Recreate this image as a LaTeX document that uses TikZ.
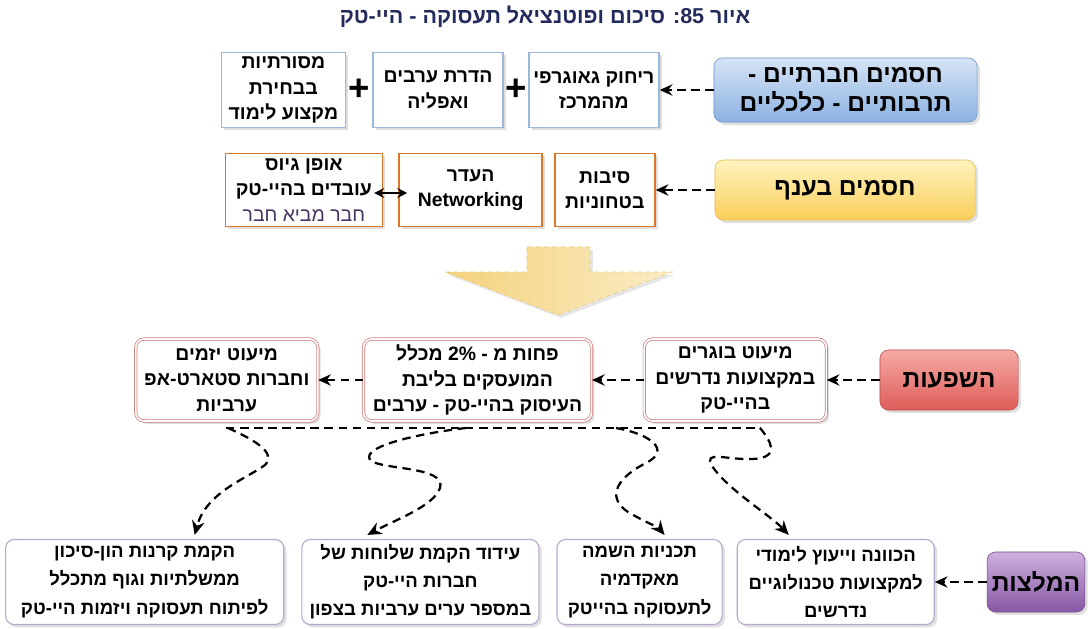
\documentclass[tikz,border=0pt]{standalone}
\usepackage{fontspec}
\setmainfont{Liberation Sans}
\newfontfamily\heb[Script=Hebrew]{Liberation Sans}
\usepackage{tikz}
\usetikzlibrary{shapes.geometric, arrows.meta, positioning, calc, shadows}
\TeXXeTstate=1
\newcommand{\rtxt}[1]{\beginR #1\endR}
\newcommand{\bodyfont}{\heb\bfseries\fontsize{13.8}{18}\selectfont}
\newcommand{\hdrfont}{\heb\bfseries\fontsize{17.5}{21}\selectfont}

\definecolor{titlenavy}{RGB}{35,42,92}
\definecolor{blueA}{RGB}{214,228,245}
\definecolor{blueB}{RGB}{140,178,226}
\definecolor{blueE}{RGB}{105,145,200}
\definecolor{blueline}{RGB}{155,183,220}
\definecolor{yelA}{RGB}{255,243,190}
\definecolor{yelB}{RGB}{249,206,90}
\definecolor{yelE}{RGB}{232,186,80}
\definecolor{orangeline}{RGB}{222,118,40}
\definecolor{redA}{RGB}{246,170,166}
\definecolor{redB}{RGB}{222,92,88}
\definecolor{redE}{RGB}{190,75,72}
\definecolor{pinkline}{RGB}{205,120,118}
\definecolor{purA}{RGB}{205,176,222}
\definecolor{purB}{RGB}{135,88,165}
\definecolor{purE}{RGB}{115,75,140}
\definecolor{lilacline}{RGB}{185,168,206}
\definecolor{goldA}{RGB}{244,210,125}
\definecolor{goldB}{RGB}{251,236,198}
\definecolor{goldE}{RGB}{236,200,112}
\definecolor{friendtxt}{RGB}{72,52,100}

\tikzset{
    soft_shadow/.style={drop shadow={opacity=0.25, shadow xshift=2pt, shadow yshift=-2pt}},
    hdr_blue/.style={rectangle, draw=blueE, rounded corners=6pt, top color=blueA, bottom color=blueB, font=\hdrfont, align=center, soft_shadow},
    hdr_yellow/.style={rectangle, draw=yelE, rounded corners=6pt, top color=yelA, bottom color=yelB, font=\hdrfont, align=center, soft_shadow},
    hdr_red/.style={rectangle, draw=redE, rounded corners=6pt, top color=redA, bottom color=redB, font=\hdrfont, align=center, soft_shadow},
    hdr_purple/.style={rectangle, draw=purE, rounded corners=6pt, top color=purA, bottom color=purB, font=\hdrfont, align=center, soft_shadow},
    box_blue/.style={rectangle, draw=blueline, line width=1.2pt, fill=white, font=\bodyfont, align=center, inner sep=1pt, soft_shadow},
    box_orange/.style={rectangle, draw=orangeline, line width=1.2pt, fill=white, font=\bodyfont, align=center, inner sep=1pt, soft_shadow},
    box_pink/.style={rectangle, draw=pinkline, line width=0.5pt, double=white, double distance=1.2pt, rounded corners=6pt, fill=white, font=\bodyfont, align=center, inner sep=2pt, soft_shadow},
    box_lilac/.style={rectangle, draw=lilacline, line width=0.8pt, rounded corners=6pt, fill=white, font=\heb\bfseries\fontsize{13.2}{20}\selectfont, align=center, inner sep=2pt, soft_shadow},
    dash_arrow/.style={-{Stealth[length=9pt, width=8pt]}, line width=1.6pt, dash pattern=on 6pt off 4pt},
    curve_arrow/.style={-{Stealth[length=10pt, width=9pt]}, line width=1.6pt, dash pattern=on 6pt off 4pt},
    both_arrow/.style={{Stealth[length=7pt, width=7pt]}-{Stealth[length=7pt, width=7pt]}, line width=1.2pt},
    plus_sign/.style={font=\bfseries\fontsize{26}{26}\selectfont, inner sep=0pt}
}

\begin{document}
\begin{tikzpicture}[x=0.025cm, y=-0.025cm]
    \fill[white] (0,0) rectangle (1090,629);
    \useasboundingbox (0,0) rectangle (1090,629);

    \node (title) [font=\heb\bfseries\fontsize{15.3}{17}\selectfont, text=titlenavy] at (545,17) {\rtxt{איור \beginL 85\endL: סיכום ופוטנציאל תעסוקה - היי-טק}};

    % barriers: society
    \node (soc) [hdr_blue, minimum width=6.575cm, minimum height=1.6cm] at (845.5,90) {\rtxt{חסמים חברתיים -}\\\rtxt{תרבותיים - כלכליים}};
    \node (geo) [box_blue, left=1.35cm of soc, minimum width=3.25cm, minimum height=1.875cm] {\rtxt{ריחוק גאוגרפי}\\\rtxt{מהמרכז}};
    \node (excl) [box_blue, left=0.6cm of geo, minimum width=3.25cm, minimum height=1.875cm] {\rtxt{הדרת ערבים}\\\rtxt{ואפליה}};
    \node (trad) [box_blue, left=0.65cm of excl, minimum width=3.1cm, minimum height=1.875cm] {\rtxt{מסורתיות}\\\rtxt{בבחירת}\\\rtxt{מקצוע לימוד}};
    \node (plusA) [plus_sign] at ($(geo.west)!0.5!(excl.east)$) {+};
    \node (plusB) [plus_sign] at ($(excl.west)!0.5!(trad.east)$) {+};

    % barriers: industry
    \node (ind) [hdr_yellow, minimum width=6.5cm, minimum height=1.5cm] at (845,190) {\rtxt{חסמים בענף}};
    \node (sec) [box_orange, left=1.475cm of ind, minimum width=2.5cm, minimum height=1.825cm] {\rtxt{סיבות}\\\rtxt{בטחוניות}};
    \node (net) [box_orange, left=0.275cm of sec, minimum width=3.575cm, minimum height=1.825cm] {\rtxt{העדר}\\Networking};
    \node (hire) [box_orange, left=0.375cm of net, minimum width=3.925cm, minimum height=1.825cm] {\rtxt{אופן גיוס}\\\rtxt{עובדים בהיי-טק}\\{\mdseries\color{friendtxt}\rtxt{חבר מביא חבר}}};

    \draw [dash_arrow] (soc) -- (geo);
    \draw [dash_arrow] (ind) -- (sec);
    \draw [both_arrow] ($(hire.east)+(-9,3)$) -- ($(net.west)+(9,3)$);

    % big arrow
    \shade[left color=goldA, right color=goldB, draw=goldE, dashed, drop shadow={opacity=0.2, shadow xshift=2pt, shadow yshift=-2pt}]
        (527,247) -- (590,247) -- (590,272) -- (672,272) -- (558,315) -- (445,272) -- (527,272) -- cycle;

    % impacts
    \node (imp) [hdr_red, minimum width=3.45cm, minimum height=1.5cm] at (949,380) {\rtxt{השפעות}};
    \node (grad) [box_pink, left=1.325cm of imp, minimum width=4.55cm, minimum height=2.05cm] {\rtxt{מיעוט בוגרים}\\\rtxt{במקצועות נדרשים}\\\rtxt{בהיי-טק}};
    \node (pct) [box_pink, left=1.3cm of grad, minimum width=5.7cm, minimum height=2.05cm] {\rtxt{פחות מ - \beginL 2\%\endL{} מכלל}\\\rtxt{המועסקים בליבת}\\\rtxt{העיסוק בהיי-טק - ערבים}};
    \node (ent) [box_pink, left=1.125cm of pct, minimum width=4.55cm, minimum height=2.05cm] {\rtxt{מיעוט יזמים}\\\rtxt{וחברות סטארט-אפ}\\\rtxt{ערביות}};

    \draw [dash_arrow] (imp) -- (grad);
    \draw [dash_arrow] (grad) -- (pct);
    \draw [dash_arrow] (pct) -- (ent);

    % recommendations
    \node (recs) [hdr_purple, minimum width=2.4cm, minimum height=1.5cm] at (1036,582) {\rtxt{המלצות}};
    \node (guide) [box_lilac, left=1.3cm of recs, minimum width=4.925cm, minimum height=2.125cm] {\rtxt{הכוונה וייעוץ לימודי}\\\rtxt{למקצועות טכנולוגיים}\\\rtxt{נדרשים}};
    \node (place) [box_lilac, left=0.35cm of guide, minimum width=4.125cm, minimum height=2.125cm] {\rtxt{תכניות השמה}\\\rtxt{מאקדמיה}\\\rtxt{לתעסוקה בהייטק}};
    \node (branch) [box_lilac, left=0.425cm of place, minimum width=5.925cm, minimum height=2.125cm] {\rtxt{עידוד הקמת שלוחות של}\\\rtxt{חברות היי-טק}\\\rtxt{במספר ערים ערביות בצפון}};
    \node (fund) [box_lilac, left=0.425cm of branch, minimum width=6.95cm, minimum height=2.125cm] {\rtxt{הקמת קרנות הון-סיכון}\\\rtxt{ממשלתיות וגוף מתכלל}\\\rtxt{לפיתוח תעסוקה ויזמות היי-טק}};

    \draw [dash_arrow] (recs) -- (guide);

    % bus line and curly links
    \coordinate (busL) at (226,428);
    \coordinate (busR) at (761,428);
    \coordinate (b1) at (228,428);
    \coordinate (b2) at (466,428);
    \coordinate (b3) at (616,428);
    \coordinate (b4) at (760,428);
    \draw [line width=1.6pt, dash pattern=on 6pt off 4pt] (busL) -- (busR);

    \draw [curve_arrow] (b1) .. controls (250,438) and (278,452) .. (265,465) .. controls (248,478) and (206,492) .. ($(fund.north)+(50,-4)$);
    \draw [curve_arrow] (b2) .. controls (430,432) and (360,445) .. (370,460) .. controls (380,470) and (447,466) .. (440,488) .. controls (434,506) and (395,520) .. ($(branch.north)+(-53,-4)$);
    \draw [curve_arrow] (b3) .. controls (650,434) and (672,450) .. (646,463) .. controls (620,476) and (604,496) .. (628,512) .. controls (645,522) and (658,527) .. ($(place.north)+(25,-4)$);
    \draw [curve_arrow] (b4) .. controls (770,440) and (782,458) .. (752,459) .. controls (726,460) and (703,450) .. (712,466) .. controls (728,490) and (770,515) .. ($(guide.north)+(-47,-4)$);
\end{tikzpicture}
\end{document}
